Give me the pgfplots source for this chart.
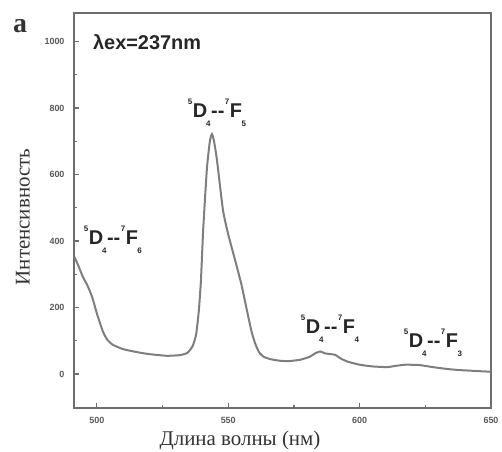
\documentclass[border=0pt]{standalone}
\usepackage{fontspec}
\setmainfont{Liberation Serif}
\newfontfamily\ars{Liberation Sans}
\usepackage{graphicx}
\usepackage{pgfplots}
\pgfplotsset{compat=1.18}
\definecolor{curvegray}{HTML}{7E7E7E}
\definecolor{framegray}{HTML}{6E6E6E}
\newcommand{\sm}[1]{{\fontsize{8}{8}\selectfont #1}}
\newcommand{\trans}[4]{\raisebox{13bp}{\sm{#1}}\kern0.5bp D\kern-1bp\raisebox{-9bp}{\sm{#2}}\kern0.5bp-{}-\kern0.5bp\raisebox{13bp}{\sm{#3}}\kern0.5bp F\kern-0.5bp\raisebox{-9bp}{\sm{#4}}}
\begin{document}
\begin{tikzpicture}
\begin{axis}[
  scale only axis, width=417bp, height=395bp,
  xmin=491.3, xmax=650, ymin=-102, ymax=1086,
  axis line style={framegray, line width=2bp},
  xtick={500,550,600,650}, minor xtick={525,575,625},
  ytick={0,200,400,600,800,1000}, minor ytick={100,300,500,700,900},
  tick align=inside, xtick pos=bottom, ytick pos=left,
  major tick length=5bp, minor tick length=3bp,
  every tick/.style={framegray, line width=1.2bp},
  tick label style={font=\ars\bfseries\fontsize{9}{9}\selectfont, text=black!65},
  /pgf/number format/assume math mode=true,
  /pgf/number format/1000 sep={},
  xticklabel style={yshift=-6bp},
  yticklabel style={xshift=-6bp},
]
\addplot[curvegray, line width=2bp, smooth, tension=0.3] coordinates {
(491.5,352) (493,325) (494.7,292) (496.5,265) (498.2,232) (500.1,180) (502.3,128) (504,103) (506.1,88) (510,75) (515.3,66) (520,60) (526.7,55) (531.6,57) (534.5,64) (536.5,85) (537.8,120) (538.8,190) (539.6,280) (540.5,440) (541.9,620) (543,700) (543.8,722) (544.6,700) (545.7,644) (548.0,493) (550,420) (552.6,343) (555,270) (557.1,192) (558.8,130) (560.2,93) (561.7,66) (563.5,52) (566,45) (569.7,40) (573,39) (577.3,43) (581,52) (583,62) (585,68) (587,62) (590.6,58) (593,46) (595.6,37) (600.1,28) (605,23) (610.4,21) (614,25) (617,28) (620,28) (623,27) (627,22) (630.6,18) (635,14) (638.2,12) (645,9) (650,7)
};
\node[anchor=west, font=\ars\bfseries\fontsize{20}{20}\selectfont, text=black!85, inner sep=0pt] at (axis cs:498.5,998) {λex=237nm};
\begin{scope}[every node/.style={font=\ars\bfseries\fontsize{20}{20}\selectfont, text=black!85, inner sep=0pt, anchor=base}]
\node at (axis cs:506.1,390) {\trans{5}{4}{7}{6}};
\node at (axis cs:545.7,773) {\trans{5}{4}{7}{5}};
\node at (axis cs:588.7,123) {\trans{5}{4}{7}{4}};
\node at (axis cs:627.9,81) {\trans{5}{4}{7}{3}};
\end{scope}
\end{axis}
\node[rotate=90, font=\fontsize{21}{21}\selectfont, text=black!80] at (-51bp,191bp) {Интенсивность};
\node[font=\fontsize{21}{21}\selectfont, text=black!80] at (166bp,-32bp) {Длина волны (нм)};
\node[font=\bfseries\fontsize{28}{28}\selectfont, text=black!80] at (-54bp,382bp) {a};
\pgfresetboundingbox
\path (-74bp,-44bp) rectangle (428bp,408bp);
\end{tikzpicture}
\end{document}
